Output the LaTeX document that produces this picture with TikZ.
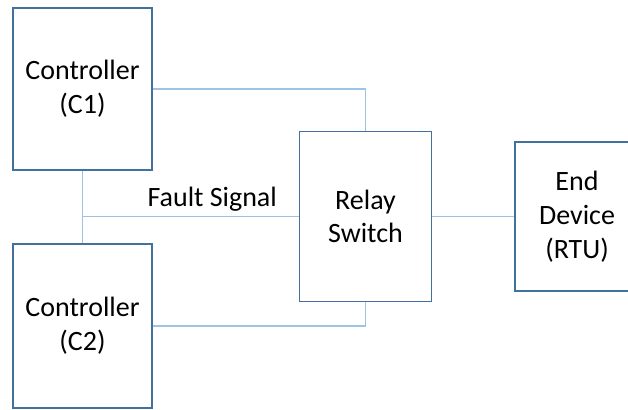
\documentclass[tikz,border=0pt]{standalone}
\usepackage{fontspec}
\setmainfont{Carlito}
\definecolor{boxblue}{HTML}{41719C}
\definecolor{wireblue}{HTML}{9DC3E6}
\begin{document}
\begin{tikzpicture}[line width=0.8pt, x=0.025cm, y=-0.025cm,
    unit/.style={draw=boxblue, line width=1.1pt, fill=white, align=center, inner sep=0pt,
      font=\fontsize{19.9}{24}\selectfont},
    wire/.style={draw=wireblue, line width=0.8pt}]
  \clip (0,0) rectangle (628,409);
  \node[unit, minimum width=139*0.025cm, minimum height=162*0.025cm] (c1) at (82.5,89) {Controller\\(C1)};
  \node[unit, minimum width=139*0.025cm, minimum height=164*0.025cm] (c2) at (82.5,326) {Controller\\(C2)};
  \node[unit, minimum width=132*0.025cm, minimum height=170*0.025cm] (relay) at (365.5,216.5) {Relay\\Switch};
  \node[unit, minimum width=124*0.025cm, minimum height=149*0.025cm] (rtu) at (577,216.5) {End\\Device\\(RTU)};
  % wiring
  \draw[wire] (c1.east) -| (relay.north);
  \draw[wire] (c2.east) -| (relay.south);
  \draw[wire] (c1.south) -- (c2.north);
  \coordinate (tap) at (c1.south |- relay.west);
  \draw[wire] (tap) -- node[pos=0.6, above=0pt, font=\fontsize{19.9}{24}\selectfont] {Fault Signal} (relay.west);
  \draw[wire] (relay.east) -- (rtu.west);
\end{tikzpicture}
\end{document}
